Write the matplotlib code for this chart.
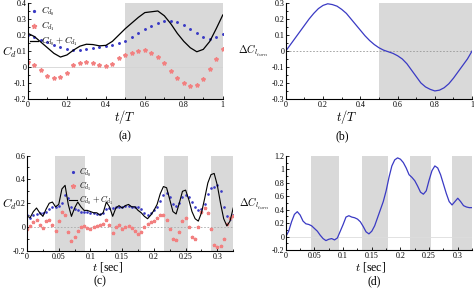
import matplotlib
matplotlib.use("Agg")
import matplotlib.pyplot as plt
from matplotlib.ticker import MultipleLocator, FuncFormatter, AutoMinorLocator

plt.rcParams['font.family'] = ['Liberation Serif', 'DejaVu Serif']
plt.rcParams['mathtext.fontset'] = 'cm'

# ---------------- data ---------------- #
# panel (a): one period, t/T
t_a = [k / 30 for k in range(31)]
cd0_a = [0.20, 0.185, 0.17, 0.155, 0.14, 0.125, 0.115, 0.105, 0.105, 0.11,
         0.12, 0.125, 0.13, 0.14, 0.15, 0.165, 0.185, 0.21, 0.235, 0.255,
         0.275, 0.29, 0.29, 0.28, 0.26, 0.235, 0.21, 0.185, 0.175, 0.19, 0.205]
cd1_a = [0.03, 0.01, -0.02, -0.055, -0.068, -0.065, -0.035, 0.01, 0.025, 0.03,
         0.025, 0.012, 0.005, 0.02, 0.055, 0.075, 0.09, 0.10, 0.105, 0.085,
         0.06, 0.025, -0.025, -0.07, -0.10, -0.12, -0.115, -0.075, -0.015, 0.05, 0.115]
cdsum_a = [0.21, 0.19, 0.155, 0.12, 0.085, 0.062, 0.075, 0.105, 0.13, 0.142,
           0.14, 0.132, 0.135, 0.16, 0.20, 0.24, 0.275, 0.31, 0.34, 0.345,
           0.35, 0.32, 0.27, 0.21, 0.16, 0.12, 0.095, 0.11, 0.16, 0.24, 0.325]

# panel (b)
t_b = [k / 40 for k in range(41)]
dcl_b = [0.0, 0.04, 0.08, 0.12, 0.16, 0.2, 0.235, 0.265, 0.285, 0.295,
         0.29, 0.28, 0.26, 0.235, 0.2, 0.165, 0.13, 0.095, 0.065, 0.04,
         0.02, 0.005, -0.005, -0.015, -0.03, -0.05, -0.08, -0.12, -0.16, -0.2,
         -0.225, -0.24, -0.25, -0.245, -0.23, -0.205, -0.17, -0.13, -0.09, -0.05, 0.0]

# panels (c), (d): time in sec
t_c = [k * 0.005 for k in range(66)]
cd0_c = [0.10, 0.08, 0.10, 0.11, 0.12, 0.12, 0.13, 0.15, 0.17, 0.17,
         0.18, 0.20, 0.27, 0.24, 0.17, 0.15, 0.14, 0.13, 0.13, 0.13,
         0.12, 0.12, 0.11, 0.11, 0.12, 0.15, 0.16, 0.16, 0.17, 0.17,
         0.17, 0.18, 0.18, 0.17, 0.17, 0.17, 0.15, 0.12, 0.10, 0.12,
         0.14, 0.17, 0.22, 0.27, 0.29, 0.25, 0.19, 0.18, 0.20, 0.25,
         0.27, 0.25, 0.21, 0.17, 0.14, 0.15, 0.19, 0.28, 0.33, 0.34,
         0.35, 0.30, 0.17, 0.09, 0.07, 0.10]
cd1_c = [-0.02, 0.01, 0.04, 0.06, 0.02, -0.01, 0.05, 0.06, 0.02, -0.03,
         0.05, 0.13, 0.10, -0.04, -0.12, -0.08, -0.03, 0.0, 0.01, -0.01,
         -0.02, 0.0, 0.01, 0.02, 0.03, 0.06, 0.02, -0.05, 0.0, 0.02,
         -0.02, 0.0, 0.01, -0.01, -0.03, -0.06, -0.04, 0.0, 0.03, 0.04,
         0.05, 0.08, 0.10, 0.10, 0.06, -0.02, -0.10, -0.11, -0.04, 0.05,
         0.08, 0.0, -0.08, -0.10, 0.0, 0.13, 0.16, 0.12, -0.02, -0.15,
         -0.17, -0.16, -0.10, 0.03, 0.08, 0.09]
cdsum_c = [0.09, 0.08, 0.13, 0.16, 0.12, 0.09, 0.15, 0.20, 0.21, 0.17,
           0.19, 0.32, 0.35, 0.19, 0.09, 0.16, 0.21, 0.17, 0.14, 0.14,
           0.13, 0.12, 0.12, 0.10, 0.12, 0.21, 0.17, 0.09, 0.16, 0.18,
           0.16, 0.18, 0.19, 0.17, 0.17, 0.14, 0.12, 0.09, 0.07, 0.10,
           0.14, 0.19, 0.28, 0.34, 0.33, 0.23, 0.13, 0.11, 0.20, 0.30,
           0.31, 0.23, 0.13, 0.07, 0.05, 0.12, 0.24, 0.37, 0.44, 0.45,
           0.35, 0.20, 0.07, 0.01, 0.05, 0.16]
dcl_d = [0.00, 0.08, 0.22, 0.33, 0.37, 0.32, 0.23, 0.19, 0.18, 0.16,
         0.12, 0.08, 0.02, -0.03, -0.06, -0.04, -0.03, -0.05, -0.02, 0.08,
         0.18, 0.29, 0.31, 0.29, 0.28, 0.26, 0.22, 0.15, 0.07, 0.04,
         0.08, 0.16, 0.28, 0.40, 0.52, 0.68, 0.88, 1.05, 1.14, 1.17,
         1.15, 1.10, 1.02, 0.92, 0.88, 0.83, 0.75, 0.66, 0.63, 0.68,
         0.84, 0.98, 1.05, 1.02, 0.92, 0.78, 0.64, 0.52, 0.47, 0.52,
         0.57, 0.52, 0.46, 0.44, 0.43, 0.43]

shade_ab = [(0.5, 1.0)]
shade_cd = [(0.044, 0.092), (0.133, 0.179), (0.216, 0.254), (0.29, 0.325)]

BLUE = '#3a3ac4'
RED = '#f28080'
GREY = '#d9d9d9'
fmt = FuncFormatter(lambda v, p: '%g' % round(v, 3))

fig = plt.figure(figsize=(4.74, 2.98), dpi=100)


def style(ax, xlim, ylim, xstep, ystep):
    ax.set_xlim(*xlim)
    ax.set_ylim(*ylim)
    ax.xaxis.set_major_locator(MultipleLocator(xstep))
    ax.yaxis.set_major_locator(MultipleLocator(ystep))
    ax.xaxis.set_minor_locator(AutoMinorLocator(2))
    ax.yaxis.set_minor_locator(AutoMinorLocator(2))
    ax.xaxis.set_major_formatter(fmt)
    ax.yaxis.set_major_formatter(fmt)
    for s in ['top', 'right']:
        ax.spines[s].set_visible(False)
    for s in ['left', 'bottom']:
        ax.spines[s].set_linewidth(0.8)
    ax.tick_params(which='both', direction='in', labelsize=5.8, width=0.6, pad=1.2)
    ax.tick_params(which='major', length=2.5)
    ax.tick_params(which='minor', length=1.5)


def shade(ax, spans):
    for a, b in spans:
        ax.axvspan(a, b, color=GREY, lw=0, zorder=0)


# (a)
ax_a = fig.add_axes([0.059, 0.668, 0.411, 0.322])
shade(ax_a, shade_ab)
ax_a.axhline(0, color='#d4d4d4', lw=0.6, zorder=1)
ax_a.plot(t_a, cd0_a, ls='none', marker='.', ms=2.2, color=BLUE, label=r'$C_{d_0}$')
ax_a.plot(t_a, cd1_a, ls='none', marker='*', ms=3, color=RED, label=r'$C_{d_1}$')
ax_a.plot(t_a, cdsum_a, color='black', lw=0.9, label=r'$C_{d_0}+C_{d_1}$')
style(ax_a, (0, 1), (-0.2, 0.4), 0.2, 0.1)
ax_a.legend(loc='upper left', frameon=False, fontsize=6.5, handlelength=0.9,
            handletextpad=0.3, labelspacing=0.15, borderaxespad=0.1,
            borderpad=0.1, markerscale=1.2)

# (b)
ax_b = fig.add_axes([0.603, 0.668, 0.393, 0.322])
shade(ax_b, shade_ab)
ax_b.axhline(0, color='#999999', lw=0.6, ls=(0, (2, 2)), zorder=1)
ax_b.plot(t_b, dcl_b, color=BLUE, lw=0.9)
style(ax_b, (0, 1), (-0.3, 0.3), 0.2, 0.1)

# (c)
ax_c = fig.add_axes([0.057, 0.158, 0.435, 0.32])
shade(ax_c, shade_cd)
ax_c.axhline(0, color='#aaaaaa', lw=0.6, ls=(0, (2, 2)), zorder=1)
ax_c.plot(t_c, cd0_c, ls='none', marker='.', ms=1.8, color=BLUE, label=r'$C_{d_0}$')
ax_c.plot(t_c, cd1_c, ls='none', marker='*', ms=2.4, color=RED, label=r'$C_{d_1}$')
ax_c.plot(t_c, cdsum_c, color='black', lw=0.8, label=r'$C_{d_0}+C_{d_1}$')
style(ax_c, (0, 0.325), (-0.2, 0.6), 0.05, 0.2)
ax_c.legend(loc='upper left', bbox_to_anchor=(0.2, 0.9), frameon=False, fontsize=6,
            handlelength=0.9, handletextpad=0.3, labelspacing=0.05,
            borderaxespad=0.0, borderpad=0.1, markerscale=1.4)

# (d)
ax_d = fig.add_axes([0.603, 0.161, 0.393, 0.316])
shade(ax_d, shade_cd)
ax_d.axhline(0, color='#dddddd', lw=0.6, zorder=1)
ax_d.plot(t_c, dcl_d, color=BLUE, lw=0.9)
style(ax_d, (0, 0.325), (-0.2, 1.2), 0.05, 0.2)

# axis labels and captions
fig.text(0.004, 0.825, r'$C_d$', fontsize=8.5, ha='left', va='center')
fig.text(0.535, 0.83, r'$\Delta C_{l_{turn}}$', fontsize=7.5, ha='center', va='center')
fig.text(0.004, 0.315, r'$C_d$', fontsize=8.5, ha='left', va='center')
fig.text(0.537, 0.315, r'$\Delta C_{l_{turn}}$', fontsize=7.5, ha='center', va='center')

fig.text(0.264, 0.607, r'$t/T$', fontsize=9, ha='center', va='center')
fig.text(0.732, 0.607, r'$t/T$', fontsize=9, ha='center', va='center')
fig.text(0.226, 0.103, r'$t$ [sec]', fontsize=8.5, ha='center', va='center')
fig.text(0.781, 0.103, r'$t$ [sec]', fontsize=8.5, ha='center', va='center')

fig.text(0.264, 0.543, '(a)', fontsize=8.5, ha='center', va='center')
fig.text(0.722, 0.543, '(b)', fontsize=8.5, ha='center', va='center')
fig.text(0.211, 0.057, '(c)', fontsize=8.5, ha='center', va='center')
fig.text(0.789, 0.057, '(d)', fontsize=8.5, ha='center', va='center')

fig.savefig('out.png', dpi=100)
